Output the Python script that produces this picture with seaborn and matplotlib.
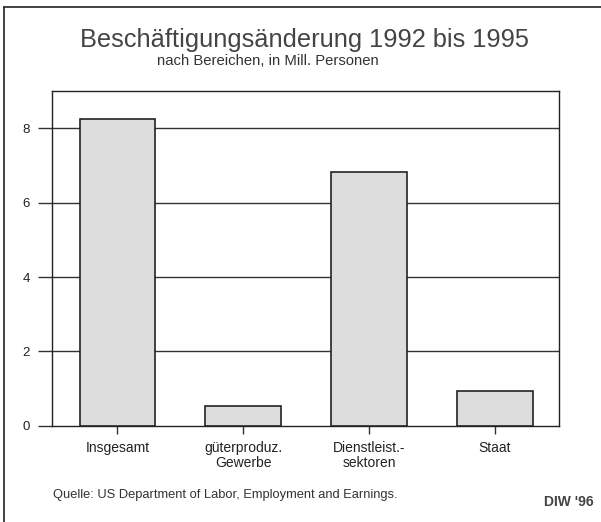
import matplotlib
matplotlib.use("Agg")
import matplotlib.pyplot as plt
import seaborn as sns
import pandas as pd
from matplotlib.lines import Line2D

categories = ["Insgesamt", "güterproduz.\nGewerbe", "Dienstleist.-\nsektoren", "Staat"]
values = [8.24, 0.53, 6.82, 0.94]
yticks = [0, 2, 4, 6, 8]

df = pd.DataFrame({"Bereich": categories, "Mill": values})

sns.set_theme(style="white")
plt.rcParams["font.family"] = ["Liberation Sans", "DejaVu Sans"]

fig = plt.figure(figsize=(6.01, 5.22), dpi=100)
ax = fig.add_axes([0.0865, 0.184, 0.8435, 0.642])

sns.barplot(data=df, x="Bereich", y="Mill", color="#dddddd", width=0.6,
            edgecolor="#222222", linewidth=1.2, saturation=1, ax=ax, zorder=3)

ax.set_ylim(0, 9)
ax.set_xlim(-0.52, 3.51)
ax.set_yticks(yticks)
ax.set_yticklabels([str(t) for t in yticks], fontsize=9.5, color="#222222")
ax.set_xticklabels(categories, fontsize=10, color="#222222", linespacing=1.1)
ax.set_xlabel("")
ax.set_ylabel("")
for y in yticks[1:]:
    ax.axhline(y, color="#333333", linewidth=1.0, zorder=1)
for s in ax.spines.values():
    s.set_color("#222222")
    s.set_linewidth(1.0)
ax.tick_params(axis="y", length=10, width=1, color="#333333", pad=6, direction="out", left=True)
ax.tick_params(axis="x", length=6, width=1, color="#333333", pad=5, direction="out", bottom=True)

fig.text(0.506, 0.923, "Beschäftigungsänderung 1992 bis 1995", ha="center", va="center",
         fontsize=18.3, color="#444444")
fig.text(0.445, 0.884, "nach Bereichen, in Mill. Personen", ha="center", va="center",
         fontsize=10.7, color="#333333")
fig.text(0.088, 0.052, "Quelle: US Department of Labor, Employment and Earnings.", ha="left",
         va="center", fontsize=9.25, color="#333333")
fig.text(0.987, 0.038, "DIW '96", ha="right", va="center", fontsize=10, fontweight="bold",
         color="#444444")

# outer frame (top and left)
fig.add_artist(Line2D([0.006, 1.0], [0.987, 0.987], color="#222222", linewidth=1.2))
fig.add_artist(Line2D([0.006, 0.006], [0.0, 0.987], color="#222222", linewidth=1.2))

fig.savefig("out.png", dpi=100)
